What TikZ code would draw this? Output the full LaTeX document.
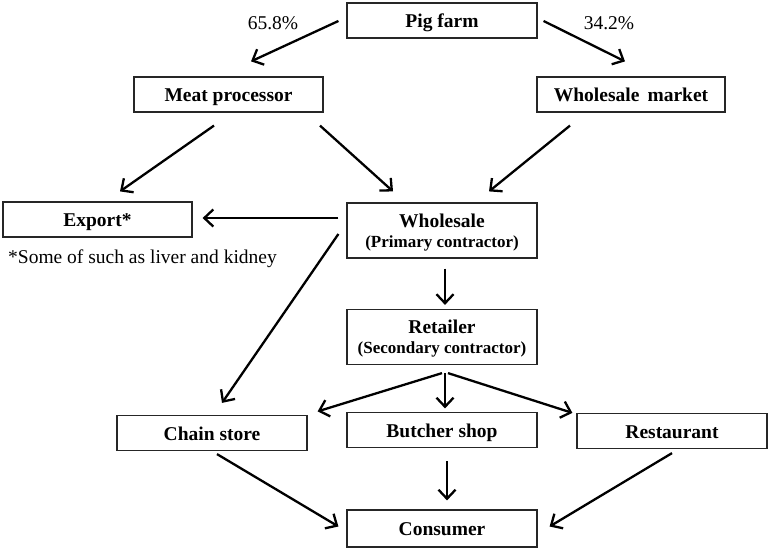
\documentclass[tikz,border=0pt]{standalone}
\usepackage{fontspec}
\setmainfont{Liberation Serif}
\usepackage{tikz}
\usetikzlibrary{calc, arrows.meta}
\tikzstyle{box} = [draw=black!85, line width=1.2pt, minimum width=190pt, minimum height=35pt, inner sep=0pt, align=center, text height=16pt, text depth=2pt, font=\fontsize{19.5}{20}\selectfont\bfseries]
\tikzstyle{tallbox} = [box, minimum height=55pt, text height=, text depth=, yshift=0pt]
\tikzstyle{flow} = [line width=2.3pt, -{Straight Barb[length=9pt, width=17pt]}]
\tikzstyle{note} = [inner sep=0pt, font=\fontsize{19.5}{21}\selectfont]
\newcommand{\subline}[1]{{\fontsize{17}{20}\selectfont #1}}

\begin{document}
\begin{tikzpicture}[x=1pt, y=-1pt]
    \useasboundingbox (0,0) rectangle (773,551);
    \draw (442,20.5) node[box] (pig) {Pig farm};
    \draw (228.5,94.5) node[box, minimum width=189pt] (meat) {Meat processor};
    \draw (631,94.5) node[box, minimum width=188pt] (market) {Wholesale\, market};
    \draw (97.5,219.5) node[box, minimum width=189pt] (export) {Export*};
    \draw (442,230.5) node[tallbox] (wholesale) {\rule{0pt}{17pt}Wholesale\\\subline{(Primary contractor)}};
    \draw (442,337) node[tallbox] (retailer) {\rule{0pt}{17pt}Retailer\\\subline{(Secondary contractor)}};
    \draw (212,433) node[box] (chain) {Chain store};
    \draw (442,430) node[box] (butcher) {Butcher shop};
    \draw (672,431) node[box] (restaurant) {Restaurant};
    \draw (442,528.5) node[box, minimum height=37pt] (consumer) {Consumer};
    \node[note, anchor=base] (share1) at (273,30) {65.8\%};
    \node[note, anchor=base] (share2) at (609,30) {34.2\%};
    \node[note, anchor=base west] (footnote) at (8,263) {*Some of such as liver and kidney};
    \draw [flow] ($(pig.west)+(-8,0.5)$) -- ($(meat.north)+(22.5,-15)$);
    \draw [flow] ($(pig.east)+(6,0.5)$) -- ($(market.north)+(-6,-15)$);
    \draw [flow] ($(meat.south)+(-14.5,13)$) -- ($(export.north)+(22.5,-10)$);
    \draw [flow] ($(meat.south)+(91.5,13)$) -- ($(wholesale.north)+(-49,-11)$);
    \draw [flow] ($(market.south)+(-61,13)$) -- ($(wholesale.north)+(47,-11)$);
    \draw [flow] ($(wholesale.west)+(-8,-12.5)$) -- ($(export.east)+(10,-1.5)$);
    \draw [flow] ($(wholesale.west)+(-8,3.5)$) -- ($(chain.north)+(10,-12)$);
    \draw [flow] ($(wholesale.south)+(3,10)$) -- ($(retailer.north)+(3,-4)$);
    \draw [flow] ($(retailer.south)+(0,8)$) -- ($(chain.north east)+(10,-3.5)$);
    \draw [flow] ($(retailer.south)+(3,8)$) -- ($(butcher.north)+(3,-3.5)$);
    \draw [flow] ($(retailer.south)+(6,8)$) -- ($(restaurant.north west)+(-4,0)$);
    \draw [flow] ($(chain.south)+(5,3)$) -- ($(consumer.west)+(-8,-2)$);
    \draw [flow] ($(butcher.south)+(5,13)$) -- ($(consumer.north)+(5,-9)$);
    \draw [flow] ($(restaurant.south)+(0,4)$) -- ($(consumer.east)+(12,-2)$);
\end{tikzpicture}
\end{document}
